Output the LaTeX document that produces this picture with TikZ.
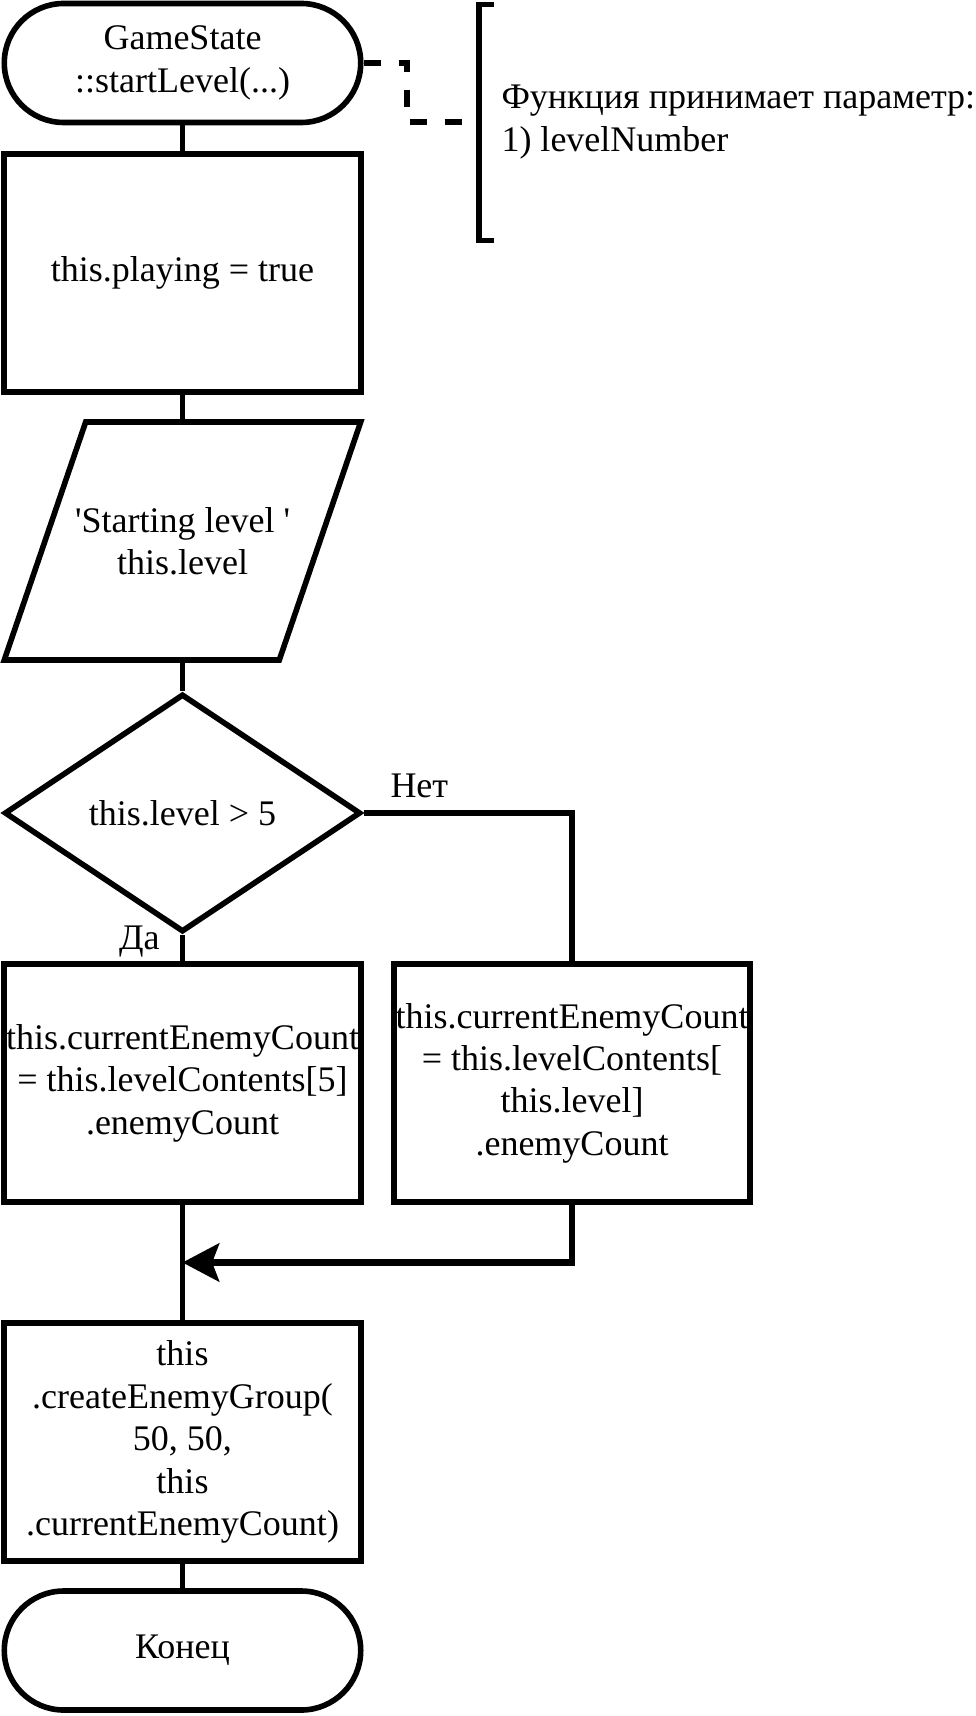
\documentclass[tikz,border=0pt]{standalone}
\usepackage{fontspec}
\setmainfont{Liberation Serif}
\usetikzlibrary{positioning,shapes.geometric,arrows.meta}

\begin{document}
\begin{tikzpicture}[on grid,line width=2.8pt,
    every node/.style={font=\fontsize{18pt}{21.2pt}\selectfont,align=center,inner sep=0pt},
    term/.style={draw,rectangle,rounded corners=29.7pt,minimum width=178.2pt,minimum height=59.5pt},
    proc/.style={draw,rectangle,minimum width=178.2pt,minimum height=119pt},
    io/.style={rectangle,outer sep=0pt,minimum width=178.2pt,minimum height=119pt},
    cond/.style={draw,diamond,minimum width=178.2pt,minimum height=119pt}]
    \useasboundingbox (-91.25pt,31.5pt) rectangle (396.25pt,-826.5pt);

    \node[term] (start) at (0,0) {GameState\\::startLevel(...)};
    \node[proc] [below=105pt of start] (play) {this.playing = true};
    \node[io] [below=134pt of play] (msg) {\textquotesingle Starting level \textquotesingle\\this.level};
    \node[cond] [below=136pt of msg] (dec) {this.level > 5};
    \node[proc] [below=135pt of dec] (yes) {this.currentEnemyCount\\= this.levelContents[5]\\.enemyCount};
    \node[proc] [right=194.75pt of yes] (no) {this.currentEnemyCount\\= this.levelContents[\\this.level]\\.enemyCount};
    \node[proc] [below=179.5pt of yes] (group) {this\\.createEnemyGroup(\\50, 50,\\this\\.currentEnemyCount)};
    \node[term] [below=104.25pt of group] (fin) {Конец};
    \coordinate [below=28.85pt of yes.south] (merge);

    \coordinate [below right=29.5pt and 57.8pt of start.east] (brk);
    \node [right=9.8pt of brk,anchor=west,align=left] (note) {Функция принимает параметр:\\1) levelNumber};

    \node [above right=6pt and 12.1pt of dec.east] (lno) {Нет};
    \node [below left=-6pt and 10pt of dec.south] (lyes) {Да};

    \draw ([xshift=40.7pt]msg.north west) -- (msg.north east) -- ([xshift=-40.7pt]msg.south east) -- (msg.south west) -- cycle;

    \draw (start) -- (play);
    \draw (play) -- (msg);
    \draw (msg) -- (dec);
    \draw (dec.south) -- (yes.north);
    \draw (dec.east) -| (no.north);
    \draw (yes.south) -- (group.north);
    \draw (group) -- (fin);
    \draw[line width=3.4pt,-{Stealth[length=18.3pt,width=19pt,inset=3.5pt]}] (no.south) |- (merge);

    \draw[dash pattern=on 8.5pt off 9pt] (start.east) -- ++(21.7pt,0) |- (brk);
    \draw ([shift={(7.2pt,58.8pt)}]brk) -- ([yshift=58.8pt]brk) -- ([yshift=-59.3pt]brk) -- ([shift={(7.2pt,-59.3pt)}]brk);
\end{tikzpicture}
\end{document}
